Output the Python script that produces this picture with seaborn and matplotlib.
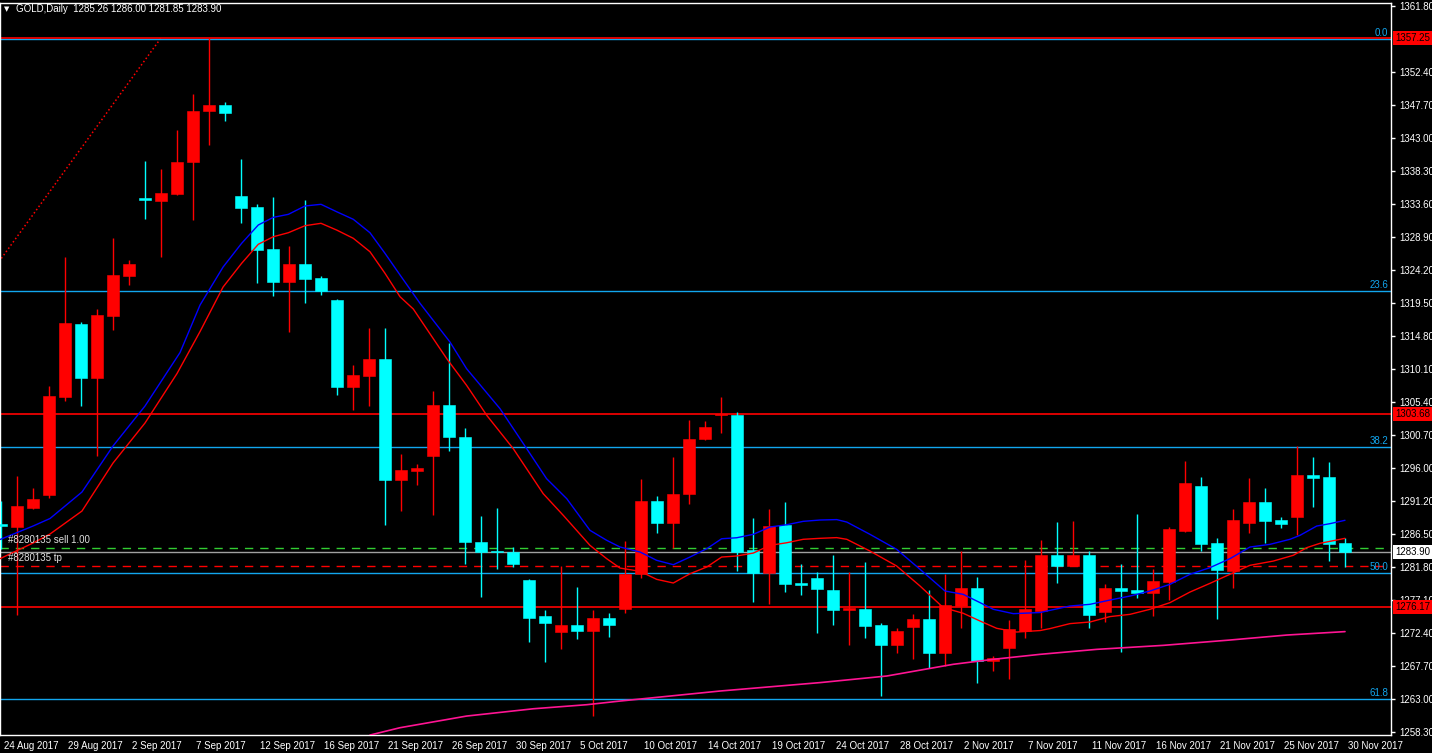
import seaborn as sns
import matplotlib.pyplot as plt
from matplotlib import transforms

# daily candles, bar 0 = 24 Aug 2017, last bar = 30 Nov 2017
opens = [1288.0, 1287.5, 1290.3, 1292.1, 1306.1, 1316.5, 1308.8, 1317.6, 1323.3, 1334.5,
         1334.0, 1335.0, 1339.6, 1346.8, 1347.7, 1334.7, 1333.1, 1327.1, 1322.5, 1325.0,
         1323.0, 1319.9, 1307.5, 1309.1, 1311.5, 1294.2, 1295.5, 1297.6, 1304.95, 1300.4,
         1285.4, 1284.15, 1284.0, 1279.9, 1274.9, 1272.55, 1273.5, 1272.75, 1274.6, 1275.9,
         1280.85, 1291.3, 1288.05, 1292.2, 1300.0, 1303.5, 1303.55, 1284.3, 1281.0, 1287.75,
         1279.5, 1280.3, 1278.6, 1275.65, 1275.9, 1273.5, 1270.7, 1273.3, 1274.35, 1269.6,
         1276.2, 1278.8, 1268.4, 1270.3, 1272.65, 1275.55, 1283.5, 1282.0, 1283.6, 1275.35,
         1278.8, 1278.5, 1278.1, 1279.65, 1286.9, 1293.3, 1285.2, 1281.2, 1288.1, 1291.1,
         1288.5, 1288.95, 1294.95, 1294.65, 1285.26]
highs = [1291.2, 1294.8, 1293.1, 1307.6, 1326.0, 1316.8, 1318.6, 1328.7, 1325.6, 1339.7,
         1338.6, 1344.1, 1349.3, 1357.25, 1348.1, 1340.0, 1333.6, 1334.6, 1327.6, 1334.1,
         1323.3, 1320.0, 1310.6, 1315.9, 1315.9, 1298.0, 1296.5, 1306.95, 1313.7, 1301.7,
         1289.1, 1290.3, 1284.7, 1280.1, 1275.7, 1282.0, 1278.9, 1275.7, 1275.2, 1285.55,
         1294.3, 1292.0, 1297.55, 1302.8, 1302.7, 1306.1, 1303.9, 1288.85, 1290.15, 1291.15,
         1282.2, 1281.15, 1283.5, 1281.15, 1282.5, 1273.8, 1273.1, 1275.05, 1278.6, 1280.8,
         1284.05, 1280.35, 1269.2, 1274.2, 1282.75, 1285.6, 1288.2, 1288.35, 1284.15, 1279.35,
         1282.2, 1289.35, 1281.6, 1287.5, 1296.9, 1294.6, 1285.9, 1290.05, 1294.5, 1293.1,
         1289.0, 1299.05, 1297.5, 1296.8, 1286.00]
lows = [1284.4, 1275.0, 1290.1, 1291.7, 1305.5, 1304.8, 1297.6, 1315.6, 1322.0, 1331.4,
        1326.0, 1334.9, 1331.3, 1342.0, 1345.4, 1330.9, 1322.35, 1320.5, 1315.35, 1319.5,
        1320.6, 1306.3, 1304.2, 1304.8, 1287.8, 1289.8, 1293.5, 1289.2, 1298.4, 1282.3,
        1277.6, 1281.6, 1281.8, 1271.1, 1268.25, 1270.2, 1271.5, 1260.6, 1271.8, 1275.25,
        1280.2, 1286.6, 1284.5, 1290.75, 1299.9, 1300.9, 1281.2, 1276.9, 1276.5, 1278.2,
        1277.8, 1272.4, 1273.55, 1270.7, 1271.65, 1263.4, 1269.6, 1268.7, 1267.4, 1267.65,
        1273.1, 1265.3, 1267.0, 1265.85, 1271.7, 1273.1, 1279.6, 1281.9, 1273.1, 1274.0,
        1269.7, 1277.4, 1274.8, 1277.05, 1286.8, 1284.05, 1274.35, 1278.8, 1286.7, 1285.3,
        1287.4, 1286.4, 1290.4, 1282.7, 1281.85]
closes = [1287.6, 1290.5, 1291.5, 1306.2, 1316.6, 1308.8, 1317.7, 1323.5, 1325.0, 1334.1,
          1335.1, 1339.6, 1346.8, 1347.7, 1346.6, 1333.0, 1327.05, 1322.4, 1325.0, 1322.9,
          1321.2, 1307.5, 1309.2, 1311.5, 1294.2, 1295.65, 1295.9, 1304.95, 1300.3, 1285.35,
          1284.0, 1283.95, 1282.3, 1274.6, 1273.8, 1273.5, 1272.65, 1274.6, 1273.6, 1280.85,
          1291.3, 1288.05, 1292.3, 1300.1, 1301.8, 1303.7, 1284.0, 1281.0, 1287.7, 1279.35,
          1279.3, 1278.65, 1275.7, 1275.95, 1273.4, 1270.7, 1272.65, 1274.4, 1269.6, 1276.35,
          1278.8, 1268.4, 1268.8, 1272.95, 1275.8, 1283.5, 1281.95, 1283.6, 1274.95, 1278.8,
          1278.4, 1278.1, 1279.8, 1287.2, 1293.75, 1285.05, 1281.35, 1288.5, 1291.1, 1288.4,
          1288.0, 1294.95, 1294.55, 1285.1, 1283.90]

date_labels = ['24 Aug 2017', '29 Aug 2017', '2 Sep 2017', '7 Sep 2017', '12 Sep 2017',
               '16 Sep 2017', '21 Sep 2017', '26 Sep 2017', '30 Sep 2017', '5 Oct 2017',
               '10 Oct 2017', '14 Oct 2017', '19 Oct 2017', '24 Oct 2017', '28 Oct 2017',
               '2 Nov 2017', '7 Nov 2017', '11 Nov 2017', '16 Nov 2017', '21 Nov 2017',
               '25 Nov 2017', '30 Nov 2017']
price_ticks = [1361.80, 1352.40, 1347.70, 1343.00, 1338.30, 1333.60, 1328.90, 1324.20,
               1319.50, 1314.80, 1310.10, 1305.40, 1300.70, 1296.00, 1291.20, 1286.50,
               1281.80, 1277.10, 1272.40, 1267.70, 1263.00, 1258.30]

# moving averages (bar position, price)
ma_blue_x = [-0.06, 2.0, 3.06, 5.06, 7.0, 9.0, 11.19, 12.44, 13.88, 15.04, 16.08, 17.02, 17.96,
             19.0, 20.0, 20.98, 22.02, 23.06, 24.0, 24.94, 26.19, 28.06, 29.1, 31.19, 32.86,
             34.1, 35.36, 36.81, 37.86, 38.69, 39.94, 40.98, 42.02, 43.06, 44.11, 45.04, 45.98,
             47.02, 48.06, 49.11, 50.14, 51.19, 52.23, 52.86, 54.31, 55.98, 57.44, 59.0, 60.14,
             61.19, 62.02, 63.27, 64.94, 66.81, 68.06, 69.31, 70.56, 71.81, 73.06, 74.31, 75.56,
             76.81, 78.06, 79.31, 80.56, 81.19, 82.23, 83.06, 84.0]
ma_blue_y = [1285.74, 1287.66, 1288.73, 1292.51, 1299.07, 1304.77, 1312.40, 1319.17, 1324.59,
             1327.97, 1330.58, 1331.67, 1332.10, 1333.29, 1333.53, 1332.47, 1331.39, 1329.48,
             1326.54, 1323.45, 1319.41, 1313.90, 1310.09, 1304.39, 1298.68, 1294.41, 1291.56,
             1287.05, 1285.62, 1284.67, 1283.96, 1282.77, 1282.15, 1283.24, 1284.43, 1285.85,
             1285.99, 1286.48, 1287.52, 1287.85, 1288.33, 1288.52, 1288.58, 1288.23, 1286.48,
             1284.34, 1281.49, 1278.40, 1277.92, 1276.74, 1275.79, 1275.17, 1275.33, 1276.26,
             1276.50, 1277.11, 1277.68, 1278.40, 1279.35, 1280.78, 1281.73, 1283.01, 1284.67,
             1285.05, 1285.77, 1286.34, 1287.66, 1288.00, 1288.48]
ma_red_x = [-0.06, 2.0, 3.06, 5.06, 7.0, 9.0, 11.0, 12.44, 13.88, 15.04, 16.08, 17.02, 17.96,
            19.0, 20.0, 20.98, 22.02, 23.06, 24.0, 24.94, 25.77, 27.86, 29.1, 30.36, 32.02,
            33.89, 35.14, 36.81, 37.86, 38.69, 39.94, 40.98, 42.02, 43.06, 44.11, 45.04, 45.98,
            47.02, 48.06, 49.11, 50.14, 51.19, 52.23, 52.86, 54.31, 55.98, 57.44, 58.89, 60.14,
            61.19, 62.23, 63.48, 64.94, 65.56, 66.81, 68.06, 69.31, 70.56, 71.81, 73.06, 74.31,
            75.56, 76.81, 78.06, 79.52, 80.77, 81.61, 82.44, 83.48, 84.0]
ma_red_y = [1283.01, 1285.24, 1286.52, 1289.80, 1296.64, 1302.35, 1309.40, 1315.39, 1321.74,
            1325.12, 1327.83, 1328.91, 1329.48, 1330.48, 1330.82, 1329.86, 1328.68, 1326.77,
            1323.69, 1320.35, 1318.60, 1311.52, 1307.72, 1303.44, 1298.68, 1292.27, 1289.19,
            1284.91, 1283.00, 1281.67, 1281.20, 1280.06, 1279.54, 1280.86, 1281.82, 1283.24,
            1283.39, 1283.81, 1284.91, 1285.28, 1285.77, 1285.91, 1286.01, 1285.77, 1284.10,
            1281.96, 1279.11, 1276.03, 1275.22, 1274.12, 1273.08, 1272.55, 1272.76, 1273.04,
            1273.75, 1273.98, 1274.75, 1275.07, 1275.79, 1276.74, 1278.25, 1279.49, 1280.78,
            1282.06, 1282.67, 1283.49, 1284.58, 1285.20, 1285.67, 1285.91]
ma_long_x = [23.06, 24.94, 29.1, 33.27, 36.61, 38.69, 44.94, 51.19, 55.36, 59.52, 62.02,
             64.94, 68.48, 72.64, 76.81, 80.36, 84.0]
ma_long_y = [1257.86, 1258.91, 1260.57, 1261.61, 1262.19, 1262.71, 1264.14, 1265.34, 1266.28,
             1267.95, 1268.66, 1269.37, 1270.08, 1270.65, 1271.41, 1272.12, 1272.61]

# horizontal lines and objects
red_levels = [1357.25, 1303.68, 1276.17]
fib_names = ['0.0', '23.6', '38.2', '50.0', '61.8']
fib_prices = [1357.12, 1321.2, 1298.95, 1280.95, 1263.0]
trend_x = [-1, 10]
trend_y = [1322.6, 1357.25]
order_open = 1284.5
order_tp = 1282.0
bid = closes[-1]

BULL = '#FF0000'
BEAR = '#00FFFF'
FIB = '#12A6EE'

sns.set_theme(style='dark')
plt.rcParams['font.family'] = ['Liberation Sans', 'DejaVu Sans']

fig = plt.figure(figsize=(14.32, 7.53), dpi=100, facecolor='black')
ax = fig.add_axes([0, 18 / 753, 1391 / 1432, 732 / 753])
ax.set_facecolor('black')

n = len(opens)
xs = list(range(n))
colors = [BULL if c >= o else BEAR for o, c in zip(opens, closes)]

# wicks then bodies
ax.vlines(xs, lows, highs, colors=colors, linewidth=1, zorder=3)
bottoms = [min(o, c) for o, c in zip(opens, closes)]
heights = [max(abs(c - o), 0.15) for o, c in zip(opens, closes)]
ax.bar(xs, heights, bottom=bottoms, width=0.69, color=colors, edgecolor=colors,
       linewidth=0.4, zorder=4)

# moving averages
sns.lineplot(x=ma_blue_x, y=ma_blue_y, color='#0000FF', linewidth=1, sort=False, ax=ax, zorder=5)
sns.lineplot(x=ma_red_x, y=ma_red_y, color='#FF0000', linewidth=1, sort=False, ax=ax, zorder=5)
sns.lineplot(x=ma_long_x, y=ma_long_y, color='#FF1493', linewidth=1.2, sort=False, ax=ax, zorder=5)

# trend line
ax.plot(trend_x, trend_y, color='#FF0000', linestyle=(0, (1, 1.6)), linewidth=1.1, zorder=2)

blend = transforms.blended_transform_factory(ax.transAxes, ax.transData)

# fibonacci levels
for name, p in zip(fib_names, fib_prices):
    ax.axhline(p, color=FIB, linewidth=1, zorder=2)
    ax.text(0.998, p + 0.15, name, color=FIB, fontsize=7, ha='right', va='bottom',
            transform=blend, zorder=6)

# red horizontal lines with their price boxes
for p in red_levels:
    ax.axhline(p, color='#FF0000', linewidth=1.2, zorder=2)
    ax.text(1.003, p, f'{p:.2f}', color='black', fontsize=7, ha='left', va='center',
            transform=blend, clip_on=False, zorder=10,
            bbox=dict(boxstyle='square,pad=0.2', fc='#FF0000', ec='none'))

# trade lines
ax.axhline(order_open, color='#32CD32', linewidth=1, linestyle=(0, (6, 5)), zorder=2)
ax.axhline(order_tp, color='#FF0000', linewidth=1, linestyle=(0, (6, 5)), zorder=2)
ax.axhline(bid, color='#A0A0A0', linewidth=1, zorder=2)
ax.text(8 / 1391, order_open + 0.4, '#8280135 sell 1.00', color='#E0E0E0', fontsize=7,
        ha='left', va='bottom', transform=blend, zorder=6)
ax.text(8 / 1391, order_tp + 0.4, '#8280135 tp', color='#E0E0E0', fontsize=7,
        ha='left', va='bottom', transform=blend, zorder=6)
ax.text(1.003, bid, f'{bid:.2f}', color='black', fontsize=7, ha='left', va='center',
        transform=blend, clip_on=False, zorder=10,
        bbox=dict(boxstyle='square,pad=0.2', fc='white', ec='none'))

# axes
ax.set_xlim(-0.0625, 86.875)
ax.set_ylim(1257.87, 1362.23)
ax.set_xlabel('')
ax.set_ylabel('')
ax.grid(False)
for sp in ax.spines.values():
    sp.set_color('white')
    sp.set_linewidth(1)
    sp.set_visible(True)

ax.yaxis.tick_right()
ax.set_yticks(price_ticks)
ax.set_yticklabels([f'{t:.2f}' for t in price_ticks])
ax.tick_params(axis='y', colors='white', labelcolor='white', labelsize=7, length=3,
               width=1, pad=3, direction='out')

ax.set_xticks(list(range(0, n, 4)))
ax.set_xticklabels(date_labels, ha='left')
ax.tick_params(axis='x', colors='white', labelcolor='white', labelsize=7, length=4,
               width=1, pad=0, direction='out')
offset = transforms.ScaledTranslation(3 / 100, 0, fig.dpi_scale_trans)
for lbl in ax.get_xticklabels():
    lbl.set_transform(lbl.get_transform() + offset)

# header
fig.text(4 / 1432, 1 - 9 / 753, '\u25bc', color='white', fontsize=5, ha='left', va='center',
         family=['DejaVu Sans'])
fig.text(16 / 1432, 1 - 9 / 753,
         f'GOLD,Daily  {opens[-1]:.2f} {highs[-1]:.2f} {lows[-1]:.2f} {closes[-1]:.2f}',
         color='white', fontsize=7, ha='left', va='center')

fig.savefig('out.png', dpi=100, facecolor='black')
